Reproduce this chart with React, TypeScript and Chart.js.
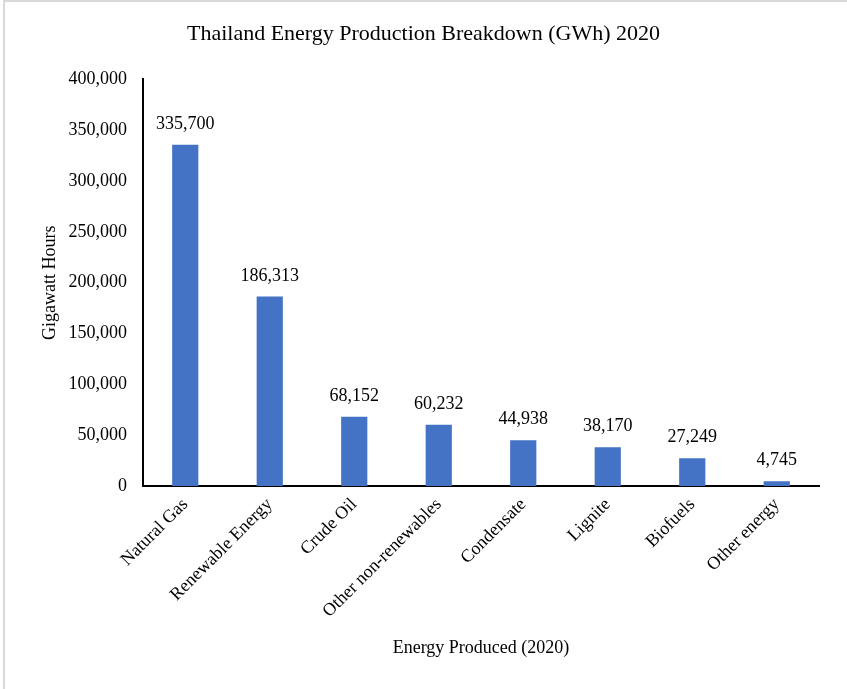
import React, { useEffect, useRef } from "react";
import { Chart, registerables } from "chart.js";

Chart.register(...registerables);

const chartTitle = "Thailand Energy Production Breakdown (GWh) 2020";
const xAxisTitle = "Energy Produced (2020)";
const yAxisTitle = "Gigawatt Hours";
const categories = [
  "Natural Gas",
  "Renewable Energy",
  "Crude Oil",
  "Other non-renewables",
  "Condensate",
  "Lignite",
  "Biofuels",
  "Other energy",
];
const values = [335700, 186313, 68152, 60232, 44938, 38170, 27249, 4745];
const yMin = 0;
const yMax = 400000;
const yStep = 50000;

const FONT = '"Liberation Serif", "Times New Roman", serif';
const BAR_COLOR = "#4472C4";

const fmt = (v: number) => v.toLocaleString("en-US");

const dataLabels = {
  id: "dataLabels",
  afterDatasetsDraw(chart: any) {
    const ctx = chart.ctx;
    const meta = chart.getDatasetMeta(0);
    ctx.save();
    ctx.font = `18px ${FONT}`;
    ctx.fillStyle = "#000";
    ctx.textAlign = "center";
    ctx.textBaseline = "alphabetic";
    meta.data.forEach((bar: any, i: number) => {
      ctx.fillText(fmt(values[i]), bar.x, bar.y - 16);
    });
    ctx.restore();
  },
};

export default function App() {
  const ref = useRef<HTMLCanvasElement | null>(null);

  useEffect(() => {
    if (!ref.current) return;
    const chart = new Chart(ref.current, {
      type: "bar",
      data: {
        labels: categories,
        datasets: [
          {
            data: values,
            backgroundColor: BAR_COLOR,
            barPercentage: 0.31,
            categoryPercentage: 1,
          },
        ],
      },
      options: {
        animation: false,
        responsive: false,
        maintainAspectRatio: false,
        layout: { padding: 0 },
        plugins: {
          legend: { display: false },
          tooltip: { enabled: false },
          title: {
            display: true,
            text: chartTitle,
            color: "#000",
            font: { family: FONT, size: 22, weight: "normal" },
            padding: { top: 21, bottom: 32 },
          },
        },
        scales: {
          x: {
            grid: { display: false, drawTicks: false },
            border: { display: true, color: "#000", width: 2 },
            ticks: {
              color: "#000",
              font: { family: FONT, size: 18 },
              minRotation: 45,
              maxRotation: 45,
              padding: 8,
              autoSkip: false,
            },
            title: {
              display: true,
              text: xAxisTitle,
              color: "#000",
              font: { family: FONT, size: 18 },
              padding: { top: 0, bottom: 30 },
            },
            afterFit(scale: any) {
              scale.height = 689 - 486;
            },
          },
          y: {
            min: yMin,
            max: yMax,
            grid: { display: false, drawTicks: false },
            border: { display: true, color: "#000", width: 2 },
            ticks: {
              stepSize: yStep,
              color: "#000",
              font: { family: FONT, size: 18 },
              padding: 16,
              callback: (v: any) => fmt(Number(v)),
            },
            title: {
              display: true,
              text: yAxisTitle,
              color: "#000",
              font: { family: FONT, size: 18 },
              padding: { top: 39, bottom: 0 },
            },
            afterFit(scale: any) {
              scale.width = 143;
            },
          },
          yRightSpace: {
            position: "right",
            display: true,
            grid: { display: false, drawTicks: false },
            border: { display: false },
            ticks: { display: false },
            afterFit(scale: any) {
              scale.width = 28;
            },
          },
        },
      },
      plugins: [dataLabels],
    });
    return () => chart.destroy();
  }, []);

  return (
    <div
      style={{
        position: "fixed",
        left: 0,
        top: 0,
        width: 847,
        height: 689,
        background: "#fff",
      }}
    >
      <div
        style={{
          position: "absolute",
          left: 3,
          top: 0,
          width: 844,
          height: 689,
          borderTop: "2px solid #d9d9d9",
          borderLeft: "2px solid #d9d9d9",
          boxSizing: "border-box",
        }}
      />
      <canvas
        ref={ref}
        width={847}
        height={689}
        style={{ position: "absolute", left: 0, top: 0, width: 847, height: 689 }}
      />
    </div>
  );
}
